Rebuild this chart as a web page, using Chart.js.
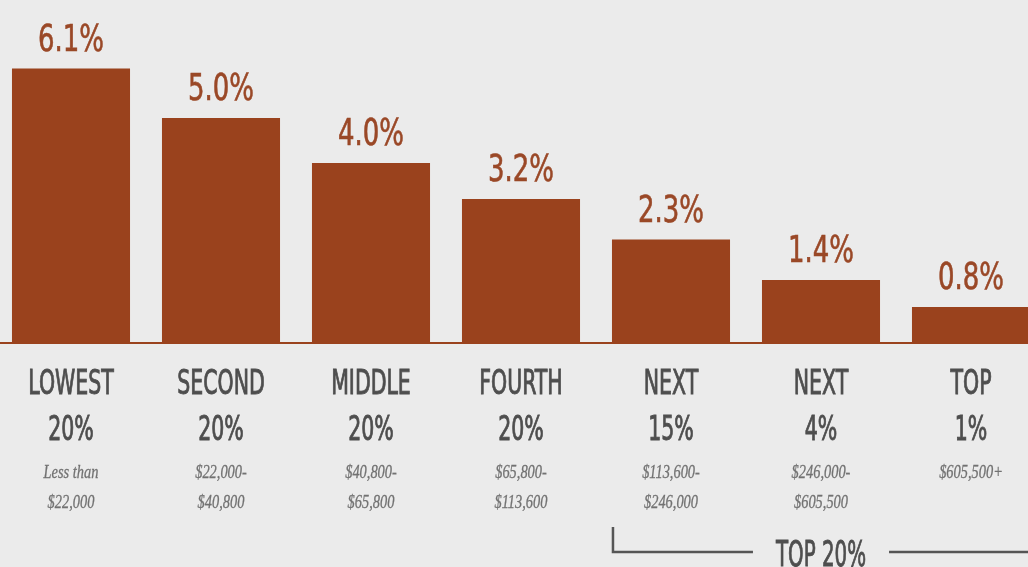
<!DOCTYPE html>
<html>
<head>
<meta charset="utf-8">
<script src="https://cdn.jsdelivr.net/npm/chart.js@4.4.1/dist/chart.umd.min.js"></script>
<style>
  html, body { margin: 0; padding: 0; background: #ebebeb; overflow: hidden; }
  #wrap { position: absolute; left: -4px; top: 0; width: 1050px; height: 567px; }
</style>
</head>
<body>
<div id="wrap"><canvas id="taxChart"></canvas></div>
<script>
"use strict";

// Data
const categories = ['LOWEST', 'SECOND', 'MIDDLE', 'FOURTH', 'NEXT', 'NEXT', 'TOP'];
const groupShares = ['20%', '20%', '20%', '20%', '15%', '4%', '1%'];
const incomeRanges = [
    ['Less than', '$22,000'],
    ['$22,000-', '$40,800'],
    ['$40,800-', '$65,800'],
    ['$65,800-', '$113,600'],
    ['$113,600-', '$246,000'],
    ['$246,000-', '$605,500'],
    ['$605,500+']
];
const taxRates = [6.1, 5.0, 4.0, 3.2, 2.3, 1.4, 0.8];
const bracketLabel = 'TOP 20%';
const bracketFrom = 4; // first category inside the "top 20%" bracket

const rust = '#9a421d';
const rustText = '#9a4827';
const grayText = '#4e4e4e';
const narrow = '"DejaVu Sans Condensed", "DejaVu Sans", sans-serif';

// text squeezed horizontally, the original uses a condensed face
// heavy > 0 adds a thin outline so the squeezed strokes are not too thin
function squeezed(ctx, text, x, y, font, sx, heavy) {
    ctx.save();
    ctx.font = font;
    ctx.translate(x, y);
    ctx.scale(sx, 1);
    ctx.fillText(text, 0, 0);
    if (heavy) {
        ctx.strokeStyle = ctx.fillStyle;
        ctx.lineWidth = heavy;
        ctx.strokeText(text, 0, 0);
    }
    const w = ctx.measureText(text).width * sx;
    ctx.restore();
    return w;
}

const labelPlugin = {
    id: 'labels',
    afterDraw(chart) {
        const ctx = chart.ctx;
        const meta = chart.getDatasetMeta(0);
        const xScale = chart.scales.x;
        const bottom = chart.chartArea.bottom;
        ctx.save();
        ctx.textAlign = 'center';
        ctx.textBaseline = 'alphabetic';

        meta.data.forEach((bar, i) => {
            ctx.fillStyle = rustText;
            squeezed(ctx, taxRates[i].toFixed(1) + '%', bar.x, bar.y - 18, '37px ' + narrow, 0.78, 0.6);

            const cx = xScale.getPixelForValue(i);
            ctx.fillStyle = grayText;
            squeezed(ctx, categories[i], cx, bottom + 51, '33px ' + narrow, 0.69, 0.9);
            squeezed(ctx, groupShares[i], cx, bottom + 97, '33px ' + narrow, 0.69, 0.9);

            ctx.fillStyle = '#727272';
            incomeRanges[i].forEach((line, j) => {
                squeezed(ctx, line, cx, bottom + 135 + j * 30, 'italic 18px "Liberation Serif", serif', 0.8, 0.3);
            });
        });

        // TOP 20% bracket
        const first = meta.data[bracketFrom];
        const left = first.x - first.width / 2 + 1;
        const mid = xScale.getPixelForValue(bracketFrom + 1);
        const lineY = bottom + 209;
        ctx.fillStyle = grayText;
        const tw = squeezed(ctx, bracketLabel, mid, bottom + 223, '35px ' + narrow, 0.63, 0.9);
        ctx.strokeStyle = '#555555';
        ctx.lineWidth = 2.5;
        ctx.beginPath();
        ctx.moveTo(left, bottom + 184);
        ctx.lineTo(left, lineY);
        ctx.lineTo(mid - tw / 2 - 23, lineY);
        ctx.moveTo(mid + tw / 2 + 23, lineY);
        ctx.lineTo(chart.width, lineY);
        ctx.stroke();
        ctx.restore();
    }
};

new Chart('taxChart', {
    type: 'bar',
    data: {
        labels: categories,
        datasets: [{
            data: taxRates,
            backgroundColor: rust,
            borderWidth: 0,
            barPercentage: 0.787,
            categoryPercentage: 1.0
        }]
    },
    options: {
        responsive: true,
        maintainAspectRatio: false,
        animation: false,
        layout: { padding: { top: 28, left: 0, right: 0, bottom: 0 } },
        plugins: {
            legend: { display: false },
            tooltip: { enabled: false }
        },
        scales: {
            x: {
                grid: { display: false },
                border: { color: rust, width: 2 },
                ticks: { display: false },
                afterFit: scale => { scale.height = 224; }
            },
            y: {
                display: false,
                min: 0,
                max: 7
            }
        }
    },
    plugins: [labelPlugin]
});
</script>
</body>
</html>
